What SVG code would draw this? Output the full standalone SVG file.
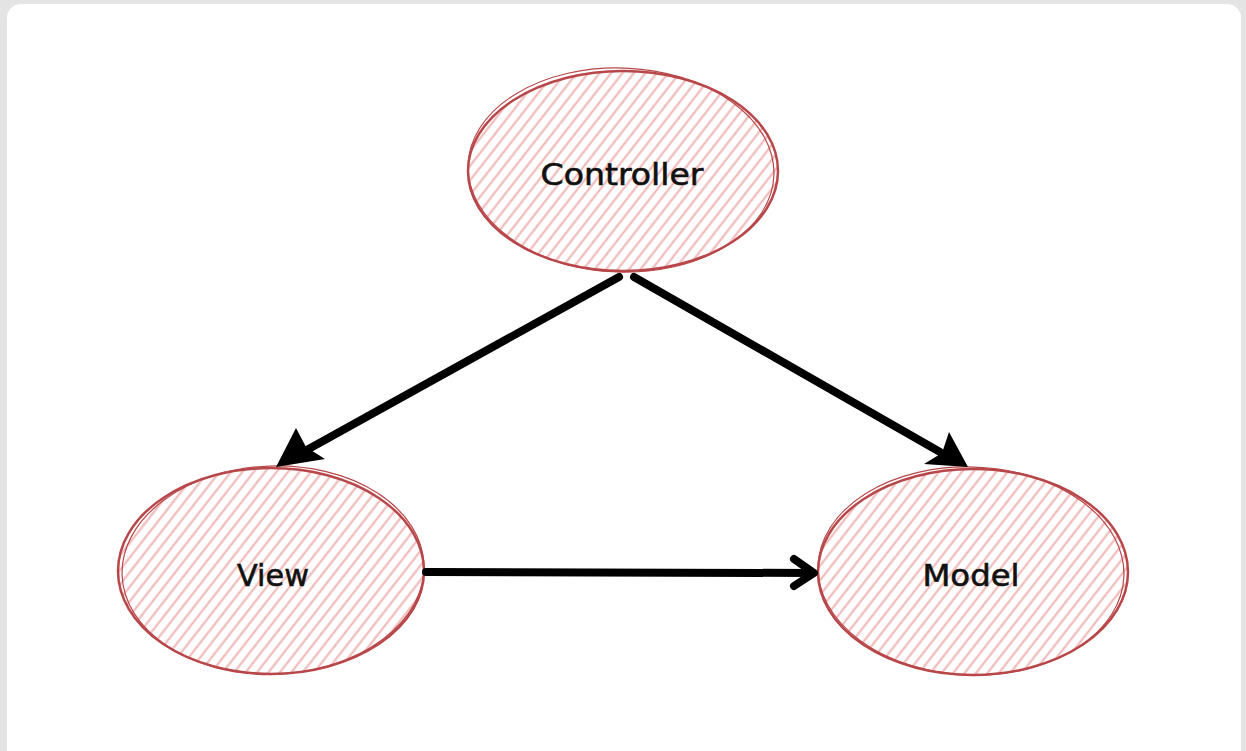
<svg xmlns="http://www.w3.org/2000/svg" width="1246" height="751" viewBox="0 0 1246 751">
<defs>
<pattern id="hatch" patternUnits="userSpaceOnUse" width="9" height="9" patternTransform="rotate(-52)">
<line x1="0" y1="4.5" x2="9" y2="4.5" stroke="#efb3b3" stroke-width="2"/>
</pattern>
</defs>
<style>
.node{fill:url(#hatch);stroke:#b8474a;stroke-width:2.5}
.node2{fill:none;stroke:#b8474a;stroke-width:1.2}
.lbl{font-family:"DejaVu Sans",sans-serif;font-size:30px;fill:#111;text-anchor:middle;dominant-baseline:central;stroke:#111;stroke-width:0.6}
.edge{stroke:#000;stroke-width:8;fill:none;stroke-linecap:round}
</style>
<rect x="0" y="0" width="1246" height="751" fill="#e4e4e4"/>
<rect x="7" y="4" width="1234" height="760" rx="14" fill="#ffffff"/>
<g id="controller">
<ellipse class="node" cx="623" cy="171" rx="155" ry="100"/>
<ellipse class="node2" cx="621" cy="170" rx="153" ry="102" transform="rotate(2 621 170)"/>
<text class="lbl" x="622" y="174" textLength="163" lengthAdjust="spacingAndGlyphs">Controller</text>
</g>
<g id="view">
<ellipse class="node" cx="271" cy="571" rx="153" ry="103"/>
<ellipse class="node2" cx="273" cy="570" rx="151" ry="104" transform="rotate(-2 273 570)"/>
<text class="lbl" x="273" y="575" textLength="72" lengthAdjust="spacingAndGlyphs">View</text>
</g>
<g id="model">
<ellipse class="node" cx="973" cy="572" rx="155" ry="103"/>
<ellipse class="node2" cx="971" cy="571" rx="153" ry="104" transform="rotate(2 971 571)"/>
<text class="lbl" x="971" y="575" textLength="97" lengthAdjust="spacingAndGlyphs">Model</text>
</g>
<g id="connectors">
<line class="edge" x1="619" y1="277" x2="305" y2="451"/>
<polygon points="276,467 296,428 306,447 325,459" fill="#000"/>
<line class="edge" x1="634" y1="277" x2="940" y2="452"/>
<polygon points="968,467 924,464 942,453 949,432" fill="#000"/>
<line class="edge" x1="426" y1="572" x2="812" y2="573"/>
<path d="M794,559 L814,573 L794,586" fill="none" stroke="#000" stroke-width="8" stroke-linejoin="round" stroke-linecap="round"/>
</g>
</svg>
